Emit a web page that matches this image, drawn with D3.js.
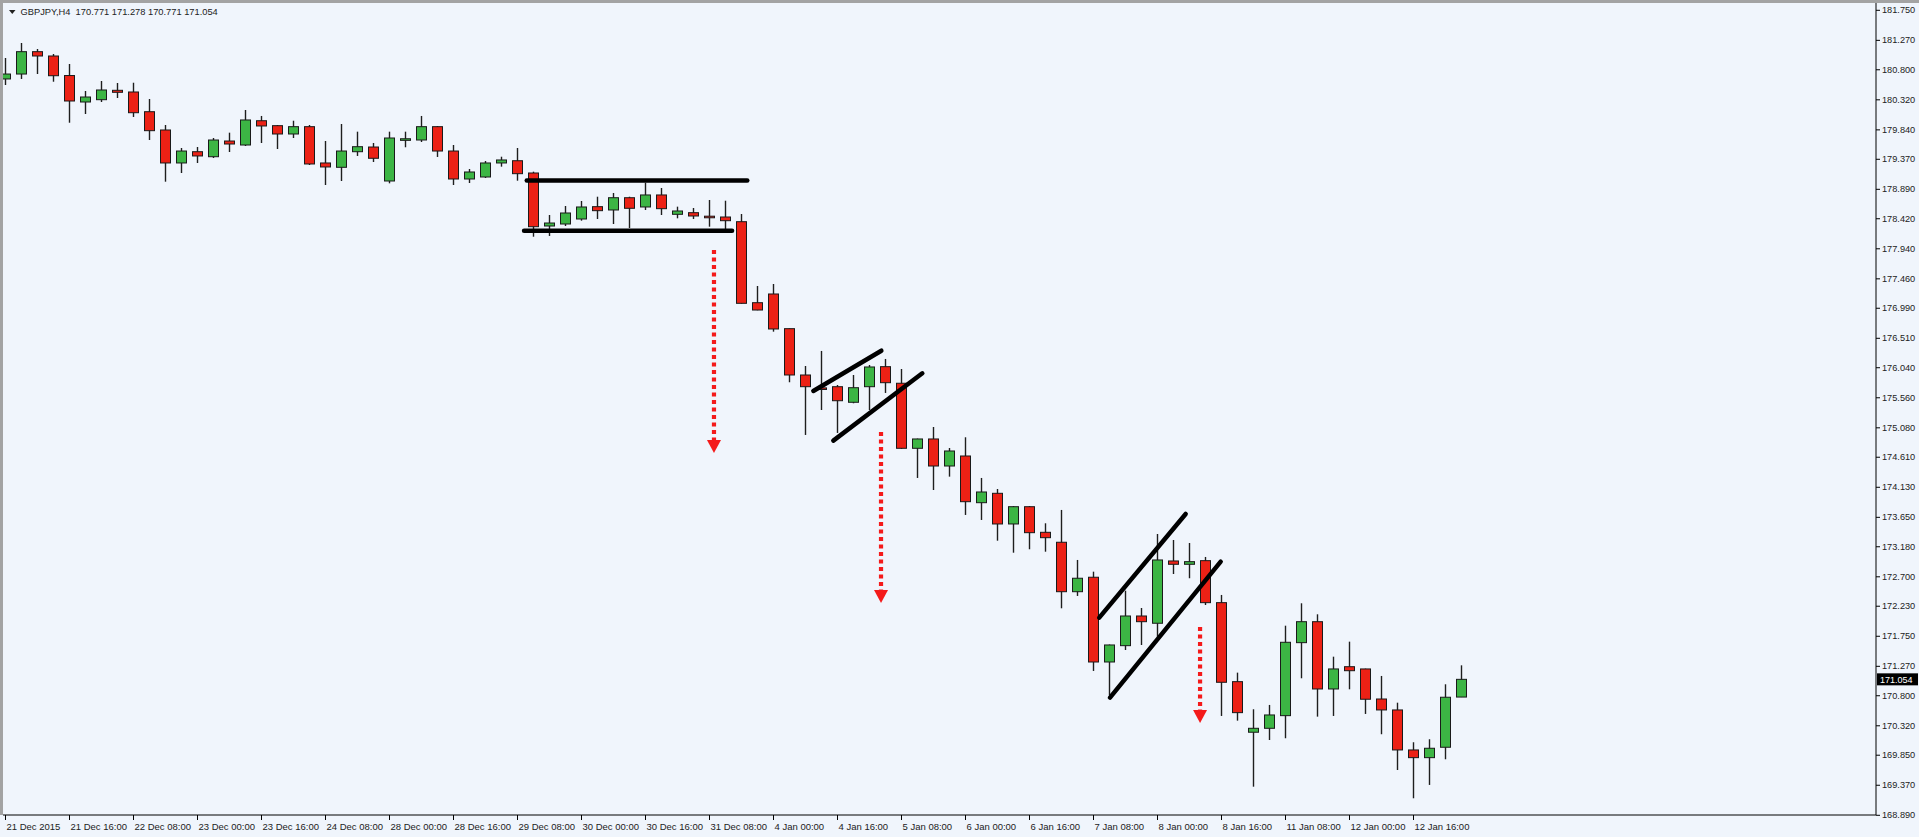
<!DOCTYPE html>
<html><head><meta charset="utf-8">
<script src="https://cdn.jsdelivr.net/npm/d3@7"></script>
<style>
html,body{margin:0;padding:0;background:#f0f5fc;overflow:hidden}
svg{display:block}
text{font-family:"Liberation Sans",Arial,sans-serif}
</style></head><body>
<svg id="chart" width="1919" height="837"></svg>
<script>
// ---------- DATA ----------
const symbolTitle = "GBPJPY,H4";
const headerOHLC = ["170.771", "171.278", "170.771", "171.054"];
const sessionDays = ["21 Dec","22 Dec","23 Dec","24 Dec","28 Dec","29 Dec","30 Dec","31 Dec",
                     "4 Jan","5 Jan","6 Jan","7 Jan","8 Jan","11 Jan","12 Jan","13 Jan"];
const barsPerDay = [6,6,6,6,6,6,6,6,6,6,6,6,6,6,6,2];
const barHours = ["00:00","04:00","08:00","12:00","16:00","20:00"];

const openP = [180.645,180.724,181.081,181.012,180.700,180.277,180.314,180.464,180.437,180.122,
179.830,179.303,179.483,179.403,179.654,179.590,179.978,179.899,179.766,179.883,
179.303,179.234,179.483,179.558,179.015,179.684,179.670,179.883,179.494,179.047,
179.079,179.303,179.339,179.143,178.296,178.328,178.408,178.605,178.552,178.748,
178.600,178.792,178.483,178.509,178.453,178.440,178.365,177.071,177.210,176.656,
175.916,175.710,175.729,175.480,175.729,176.049,175.784,174.745,174.894,174.462,
174.622,173.876,174.026,173.536,173.812,173.403,173.244,172.454,172.685,171.331,
171.592,172.066,171.950,172.945,172.892,172.950,172.279,171.017,170.209,170.272,
170.474,171.640,171.975,170.900,171.256,171.220,170.740,170.565,169.926,169.803,
169.969,170.771];
const highP = [180.980,181.220,181.124,181.044,180.884,180.453,180.613,180.581,180.585,180.325,
179.910,179.542,179.558,179.702,179.787,180.149,180.054,179.910,179.978,179.910,
179.654,179.926,179.803,179.622,179.803,179.803,180.054,179.894,179.590,179.207,
179.335,179.403,179.542,179.164,178.472,178.616,178.696,178.764,178.823,178.764,
178.988,178.903,178.605,178.584,178.712,178.700,178.488,177.338,177.370,176.660,
176.060,176.300,175.756,175.916,176.076,176.172,176.012,174.900,175.085,174.750,
174.921,174.271,174.095,173.823,173.823,173.547,173.760,172.961,172.774,171.610,
172.470,172.194,173.376,173.280,173.232,173.009,172.402,171.161,170.576,170.645,
171.911,172.269,172.093,171.416,171.656,171.225,171.108,170.681,170.049,170.097,
170.975,171.278];
const lowP = [180.549,180.645,180.724,180.601,179.946,180.085,180.277,180.341,180.038,179.670,
179.004,179.143,179.303,179.383,179.478,179.574,179.622,179.526,179.702,179.271,
178.951,179.015,179.415,179.319,178.978,179.554,179.638,179.399,178.951,178.983,
179.063,179.244,179.020,178.125,178.137,178.296,178.381,178.408,178.328,178.264,
178.552,178.472,178.419,178.408,178.285,178.205,177.055,176.950,176.608,175.800,
174.958,175.357,174.990,175.464,175.357,175.629,174.734,174.271,174.079,174.292,
173.680,173.600,173.269,173.077,173.132,173.093,172.189,172.386,171.188,170.804,
171.523,171.603,171.736,172.737,172.669,172.242,170.469,170.394,169.339,170.085,
170.113,171.071,170.458,170.469,170.895,170.501,170.177,169.606,169.154,169.367,
169.777,170.771];
const closeP = [180.724,181.081,181.012,180.697,180.293,180.357,180.469,180.432,180.106,179.819,
179.303,179.494,179.415,179.670,179.606,179.990,179.894,179.766,179.883,179.287,
179.239,179.494,179.563,179.378,179.702,179.690,179.883,179.494,179.047,179.159,
179.303,179.351,179.132,178.285,178.344,178.504,178.600,178.541,178.748,178.579,
178.792,178.573,178.536,178.456,178.449,178.381,177.061,176.954,176.651,175.916,
175.729,175.706,175.505,175.713,176.044,175.793,174.745,174.894,174.462,174.702,
173.892,174.047,173.536,173.812,173.397,173.317,172.454,172.669,171.331,171.603,
172.066,171.975,172.961,172.892,172.934,172.279,171.007,170.522,170.272,170.485,
171.646,171.975,170.900,171.220,171.192,170.736,170.565,169.926,169.803,169.953,
170.768,171.054];

const yTickValues = [181.750,181.270,180.800,180.320,179.840,179.370,178.890,178.420,177.940,
177.460,176.990,176.510,176.040,175.560,175.080,174.610,174.130,173.650,173.180,172.700,
172.230,171.750,171.270,170.800,170.320,169.850,169.370,168.890];
const yDomain = [168.890, 181.750];
const lastPrice = 171.054;
const xLabelEvery = 4;

// drawn lines: [barIndexStart, priceStart, barIndexEnd, priceEnd]
const trendLines = [
  [32.58, 179.023, 46.36, 179.023],
  [32.41, 178.221, 45.41, 178.221],
  [50.49, 175.661, 54.74, 176.304],
  [51.74, 174.867, 57.30, 175.943],
  [68.36, 172.039, 73.76, 173.696],
  [69.03, 170.763, 75.95, 172.934]
];
// dotted arrows: [barIndex, priceTop, priceTip]
const arrows = [
  [44.28, 177.913, 174.670],
  [54.72, 175.006, 172.274],
  [74.66, 171.891, 170.357]
];

// ---------- BUILD ----------
const times = [];
sessionDays.forEach((d, k) => {
  for (let h = 0; h < barsPerDay[k]; h++) times.push(d + " " + barHours[h]);
});
const bars = times.map((t, i) => ({t, i, o: openP[i], h: highP[i], l: lowP[i], c: closeP[i]}));

const W = 1919, H = 837;
const plotRight = 1876, plotBottom = 815;
const svg = d3.select("#chart");
svg.append("rect").attr("width", W).attr("height", H).attr("fill", "#f0f5fc");

const x = d3.scaleBand().domain(times).range([-2.5, -2.5 + 16 * times.length])
  .paddingInner(0.375).paddingOuter(0.1875);
const y = d3.scaleLinear().domain(yDomain).range([814.8, 9.8]);
const xc = i => x(times[0]) + x.step() * i + x.bandwidth() / 2;

const plot = svg.append("g");
plot.append("clipPath").attr("id", "clip").append("rect")
  .attr("x", 3).attr("y", 3).attr("width", plotRight - 3).attr("height", plotBottom - 3);
const g = plot.append("g").attr("clip-path", "url(#clip)");

const green = "#3cb544", red = "#ec2115";
const cg = g.selectAll("g.c").data(bars).join("g").attr("class", "c");
cg.append("line")
  .attr("x1", d => x(d.t) + x.bandwidth() / 2).attr("x2", d => x(d.t) + x.bandwidth() / 2)
  .attr("y1", d => y(d.h)).attr("y2", d => y(d.l))
  .attr("stroke", "#1e1e1e").attr("stroke-width", 1.4);
cg.append("rect")
  .attr("x", d => x(d.t)).attr("width", x.bandwidth())
  .attr("y", d => Math.min(y(d.o), y(d.c)))
  .attr("height", d => Math.max(1.6, Math.abs(y(d.o) - y(d.c))))
  .attr("fill", d => d.c >= d.o ? green : red)
  .attr("stroke", "#1a1a1a").attr("stroke-width", 1);

// trend lines
g.selectAll("line.tl").data(trendLines).join("line").attr("class", "tl")
  .attr("x1", d => xc(d[0])).attr("y1", d => y(d[1]))
  .attr("x2", d => xc(d[2])).attr("y2", d => y(d[3]))
  .attr("stroke", "#000").attr("stroke-width", 4.5).attr("stroke-linecap", "round");

// arrows
const headH = 13, headW = 14;
g.selectAll("line.ar").data(arrows).join("line").attr("class", "ar")
  .attr("x1", d => xc(d[0])).attr("x2", d => xc(d[0]))
  .attr("y1", d => y(d[1])).attr("y2", d => y(d[2]) - headH)
  .attr("stroke", "#f41a1a").attr("stroke-width", 4.2).attr("stroke-dasharray", "4,3.5");
g.selectAll("path.ah").data(arrows).join("path").attr("class", "ah")
  .attr("d", d => {
    const cx = xc(d[0]), ty = y(d[2]);
    return `M${cx - headW / 2},${ty - headH}L${cx + headW / 2},${ty - headH}L${cx},${ty}Z`;
  })
  .attr("fill", "#f41a1a");

// frame
svg.append("rect").attr("x", 0).attr("y", 0).attr("width", W).attr("height", 3).attr("fill", "#a3a3a3");
svg.append("rect").attr("x", 0).attr("y", 0).attr("width", 3).attr("height", plotBottom).attr("fill", "#a3a3a3");
svg.append("line").attr("x1", plotRight).attr("x2", plotRight).attr("y1", 3).attr("y2", plotBottom)
  .attr("stroke", "#000").attr("stroke-width", 1);
svg.append("line").attr("x1", 3).attr("x2", plotRight).attr("y1", plotBottom).attr("y2", plotBottom)
  .attr("stroke", "#000").attr("stroke-width", 1);

// y axis
const yAxis = d3.axisRight(y).tickValues(yTickValues).tickFormat(d3.format(".3f"))
  .tickSize(4).tickSizeOuter(0).tickPadding(2);
const ya = svg.append("g").attr("transform", `translate(${plotRight},0)`).call(yAxis);
ya.select(".domain").remove();
ya.selectAll("line").attr("stroke", "#000");
ya.selectAll("text").attr("fill", "#222").style("font-size", "9.2px")
  .style("font-family", '"Liberation Sans",Arial,sans-serif');

// x axis
const xTicks = times.filter((t, i) => i % xLabelEvery === 0);
const xAxis = d3.axisBottom(x).tickValues(xTicks)
  .tickFormat((t, i) => i === 0 ? t.split(" ").slice(0, 2).join(" ") + " 2015" : t)
  .tickSize(5).tickSizeOuter(0).tickPadding(4);
const xa = svg.append("g").attr("transform", `translate(0,${plotBottom})`).call(xAxis);
xa.select(".domain").remove();
xa.selectAll("line").attr("stroke", "#000");
xa.selectAll("text").attr("fill", "#222").attr("text-anchor", "start").attr("dx", 1)
  .attr("dy", "0.6em").style("font-size", "9.5px")
  .style("font-family", '"Liberation Sans",Arial,sans-serif');

// last price tag
const ly = y(lastPrice);
svg.append("rect").attr("x", plotRight + 1).attr("y", ly - 6).attr("width", 41).attr("height", 12).attr("fill", "#000");
svg.append("text").attr("x", plotRight + 4).attr("y", ly + 3.3).attr("fill", "#fff")
  .style("font-size", "9px").text(d3.format(".3f")(lastPrice));

// header
svg.append("path").attr("d", "M9,10L15.5,10L12.25,14Z").attr("fill", "#222");
svg.append("text").attr("x", 20.5).attr("y", 15).attr("fill", "#222").style("font-size", "9.3px")
  .attr("xml:space", "preserve")
  .text(symbolTitle + "  " + headerOHLC.join(" "));
</script>
</body></html>
